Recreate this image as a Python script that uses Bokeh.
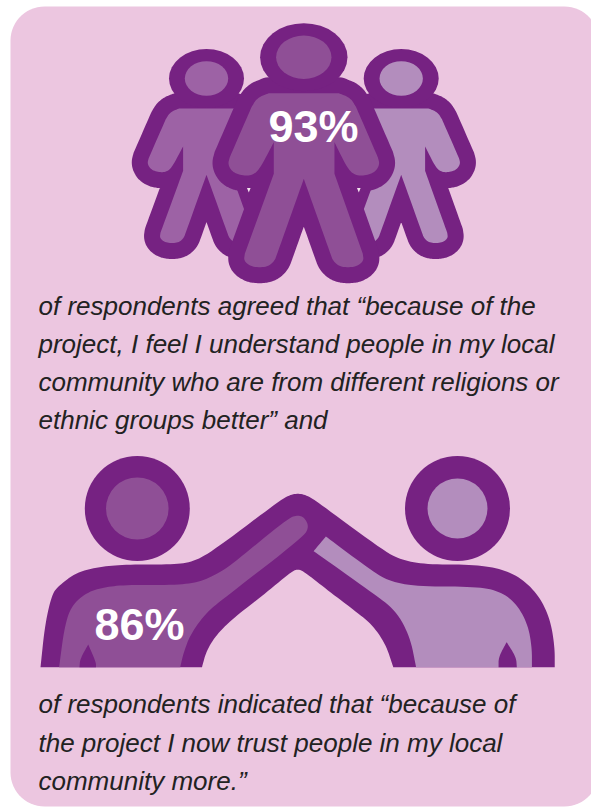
from bokeh.plotting import figure
from bokeh.models import Range1d
from bokeh.core.properties import value
from bokeh.embed import file_html
from bokeh.resources import INLINE
import numpy as np

# ---- content ----
pct_top = "93%"
pct_bottom = "86%"
lines_top = ["of respondents agreed that \u201cbecause of the",
             "project, I feel I understand people in my local",
             "community who are from different religions or",
             "ethnic groups better\u201d and"]
lines_bottom = ["of respondents indicated that \u201cbecause of",
                "the project I now trust people in my local",
                "community more.\u201d"]

BG, DARK, MID, LEFT, LIGHT = "#ECC6E0", "#762282", "#8F4F96", "#9D62A5", "#B38DBD"
W, H = 591, 807

p = figure(width=W, height=H, x_range=Range1d(0, W), y_range=Range1d(H, 0),
           output_backend="svg", toolbar_location=None, min_border=0,
           outline_line_color=None, background_fill_color="white", border_fill_color="white")
p.axis.visible = False
p.grid.visible = False


def smooth(pts, n=3):
    a = np.array(pts, float)
    for _ in range(n):
        b = np.roll(a, -1, axis=0)
        q = 0.75 * a + 0.25 * b
        r = 0.25 * a + 0.75 * b
        a = np.empty((2 * len(q), 2))
        a[0::2], a[1::2] = q, r
    return a[:, 0], a[:, 1]


def rounded(x0, y0, x1, y1, r):
    xs, ys = [], []
    for cx, cy, a0 in [(x1 - r, y0 + r, -90), (x1 - r, y1 - r, 0), (x0 + r, y1 - r, 90), (x0 + r, y0 + r, 180)]:
        t = np.radians(np.linspace(a0, a0 + 90, 16))
        xs += list(cx + r * np.cos(t))
        ys += list(cy + r * np.sin(t))
    return xs, ys


px, py = rounded(10, 6, 598, 806, 34)
p.patch(px, py, fill_color=BG, line_color=None)

# ---- three people (outline in zoom-crop coordinates; doubled points stay sharp) ----
person = [(445, 278), (445, 278), (655, 278), (655, 278), (690, 292), (707, 320), (707, 320), (772, 470), (772, 470),
          (778, 492), (762, 517), (725, 527), (695, 520), (675, 492), (642, 425), (642, 425), (642, 520), (642, 520),
          (727, 760), (727, 760), (730, 782), (705, 800), (660, 800), (638, 782), (630, 760), (630, 760), (550, 535),
          (550, 535), (470, 760), (470, 760), (462, 782), (440, 800), (395, 800), (370, 782), (373, 760), (373, 760),
          (460, 520), (460, 520), (460, 425), (460, 425), (425, 492), (405, 520), (375, 527), (338, 517), (322, 492),
          (328, 470), (328, 470), (393, 320), (393, 320), (410, 292)]


def draw_person(cx, cy, sx, sy, fill, hx, hy, orx, ory, irx, iry):
    pts = [(cx + (x - 550) * sx / 3, cy + (y - 170) * sy / 3) for x, y in person]
    xs, ys = smooth(pts)
    p.patch(xs, ys, fill_color=DARK, line_color=DARK, line_width=32, line_join="round")
    p.ellipse(hx, hy, width=2 * orx, height=2 * ory, fill_color=DARK, line_color=None)
    p.patch(xs, ys, fill_color=fill, line_color=None)
    p.ellipse(hx, hy, width=2 * irx, height=2 * iry, fill_color=fill, line_color=None)


draw_person(206, 80.2, 0.78, 0.773, LEFT, 206, 78, 37.5, 29.5, 21.7, 17.3)
draw_person(400.7, 80.2, 0.78, 0.773, LIGHT, 400.7, 78, 37.5, 29.5, 21.7, 17.3)
draw_person(303.3, 56.7, 1, 1, MID, 303.3, 56.7, 43.7, 34, 27.7, 21.7)
for tx in (248.3, 358.3):
    p.patch([tx - 1.8, tx + 1.8, tx], [187.5, 187.5, 192], fill_color="#F3E3EE", line_color=None)

# ---- two people high-five ----
def zx(x): return 20 + x * 0.351
def zy(y): return 460 + y / 3


sil = [(57, 620), (57, 620), (70, 490), (90, 400), (110, 375), (160, 335), (230, 318), (300, 312), (430, 312),
       (490, 305), (550, 270), (720, 135), (760, 106), (790, 98), (820, 106), (860, 135), (1040, 275), (1090, 300),
       (1160, 312), (1290, 312), (1370, 325), (1430, 355), (1480, 410), (1510, 480), (1522, 560), (1522, 620),
       (1522, 620), (1062, 620), (1062, 620), (1040, 550), (1000, 490), (945, 445), (870, 385), (810, 335), (790, 325),
       (770, 335), (690, 405), (610, 470), (560, 520), (530, 570), (517, 620), (517, 620)]
left_fill = [(110, 620), (110, 620), (125, 500), (145, 435), (190, 395), (240, 380), (300, 373), (440, 374), (510, 365),
             (570, 335), (610, 305), (760, 175), (790, 163), (810, 172), (822, 200), (805, 230), (590, 405), (530, 455),
             (485, 520), (465, 575), (455, 620), (455, 620)]
right_fill = [(835, 272), (835, 272), (870, 228), (870, 228), (1000, 330), (1050, 362), (1130, 378), (1290, 378),
              (1360, 390), (1410, 425), (1445, 490), (1457, 560), (1457, 620), (1457, 620), (1127, 620), (1127, 620),
              (1110, 530), (1070, 450), (1000, 395)]
flame_l = [(168, 620), (168, 620), (170, 595), (193, 552), (193, 552), (215, 605), (215, 620), (215, 620)]
flame_r = [(1362, 620), (1362, 620), (1362, 590), (1385, 545), (1385, 545), (1412, 590), (1414, 620), (1414, 620)]


def shape(pts, fill):
    xs, ys = smooth([(zx(x), zy(y)) for x, y in pts])
    p.patch(xs, ys, fill_color=fill, line_color=None)


shape(sil, DARK)
shape(left_fill, MID)
shape(right_fill, LIGHT)
shape(flame_l, DARK)
shape(flame_r, DARK)
for hx, hy, orx, ory, irx, iry, c in [(136.8, 508, 52.5, 52.5, 31.3, 31, MID), (457, 508, 52.5, 52.5, 30, 30, LIGHT)]:
    p.ellipse(hx, hy, width=2 * orx, height=2 * ory, fill_color=DARK, line_color=None)
    p.ellipse(hx, hy, width=2 * irx, height=2 * iry, fill_color=c, line_color=None)

# ---- text ----
FONT = value("Liberation Sans")
p.text([38] * 4, [305, 343, 381, 419], text=lines_top, text_font=FONT, text_font_style="italic",
       text_font_size="26px", text_color="#222222", text_baseline="alphabetic")
p.text([38] * 3, [703, 742, 780], text=lines_bottom, text_font=FONT, text_font_style="italic",
       text_font_size="26px", text_color="#222222", text_baseline="alphabetic")
p.text([268], [126], text=[pct_top], text_font=FONT, text_font_style="bold", text_font_size="45px",
       text_color="white", text_baseline="alphabetic")
p.text([94], [624], text=[pct_bottom], text_font=FONT, text_font_style="bold", text_font_size="45px",
       text_color="white", text_baseline="alphabetic")

open("out.html", "w").write(file_html(p, INLINE))
